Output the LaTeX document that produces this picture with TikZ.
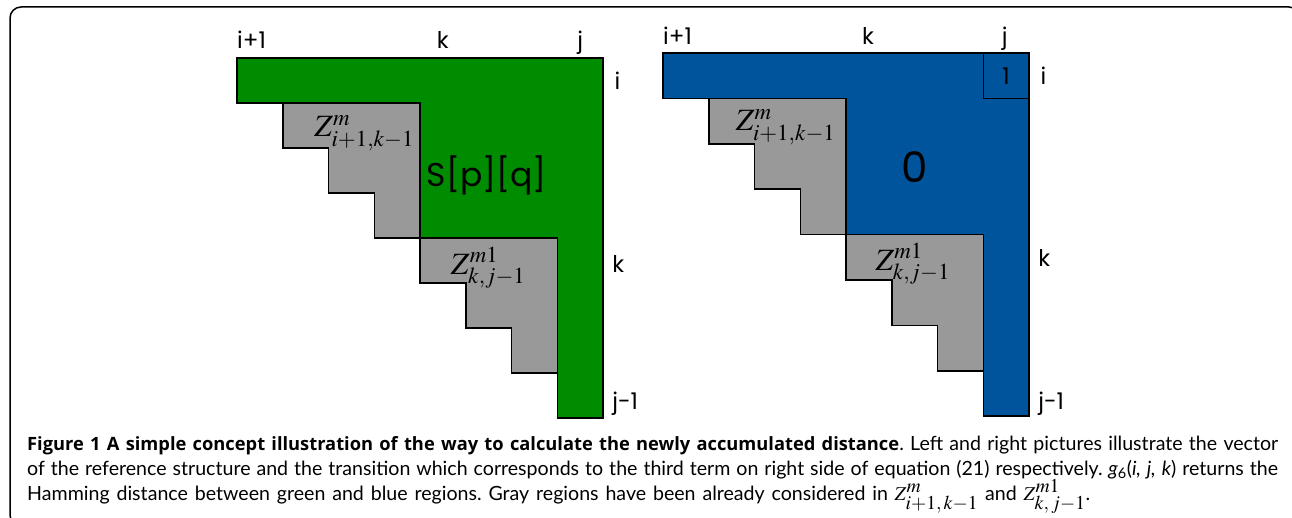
\documentclass[tikz,border=0pt]{standalone}
\usepackage{mathptmx}
\usepackage{fontspec}
\setmainfont{Lato}
\newfontfamily\labfont{Poppins}
\newfontfamily\capboldfont{Open Sans}
\definecolor{fgreen}{RGB}{0,140,0}
\definecolor{fblue}{RGB}{0,84,155}
\definecolor{fgray}{RGB}{153,153,153}
\tikzset{
  region/.style={draw=black, line width=1.5pt, line join=miter},
  lab/.style={font=\labfont\fontsize{23}{23}\selectfont, inner sep=0pt},
  biglab/.style={font=\labfont\fontsize{33}{33}\selectfont, inner sep=0pt},
  zlab/.style={font=\fontsize{31}{31}\selectfont, inner sep=0pt},
}
\newcommand{\capbold}[1]{{\capboldfont\bfseries\fontsize{18.3}{25}\selectfont #1}}
\begin{document}
\begin{tikzpicture}[x=1pt,y=-1pt]
\useasboundingbox (0,0) rectangle (1292,518);
\clip (0,0) rectangle (1292,518);
\draw[line width=1.5pt, rounded corners=11pt] (10,7) rectangle (1300,526);

% left figure
\begin{scope}[shift={(237,58)}, x=45.75pt, y=-45pt]
  \path[region, fill=fgreen] (0,0) -- (8,0) -- (8,8) -- (7,8) -- (7,4) -- (4,4) -- (4,1) -- (0,1) -- cycle;
  \path[region, fill=fgray] (1,1) -- (4,1) -- (4,4) -- (3,4) -- (3,3) -- (2,3) -- (2,2) -- (1,2) -- cycle;
  \path[region, fill=fgray] (4,4) -- (7,4) -- (7,7) -- (6,7) -- (6,6) -- (5,6) -- (5,5) -- (4,5) -- cycle;
  \node[lab, anchor=base west] (lip) at (0,-0.2) {i+1};
  \node[lab, anchor=base] (lk) at (4.5,-0.2) {k};
  \node[lab, anchor=base] (lj) at (7.5,-0.2) {j};
  \node[lab, anchor=base west] (li) at (8.25,0.71) {i};
  \node[lab, anchor=base west] (lk2) at (8.2,4.76) {k};
  \node[lab, anchor=base west] (ljm) at (8.2,7.82) {j-1};
  \node[biglab] (spq) at (5.46,2.6) {S[p][q]};
  \node[zlab] (lz1) at (2.78,1.67) {$Z^{m}_{i+1,k-1}$};
  \node[zlab] (lz2) at (5.49,4.67) {$Z^{m1}_{k,j-1}$};
\end{scope}

% right figure
\begin{scope}[shift={(663,53)}, x=45.75pt, y=-45.4pt]
  \path[region, fill=fblue] (0,0) -- (8,0) -- (8,8) -- (7,8) -- (7,4) -- (4,4) -- (4,1) -- (0,1) -- cycle;
  \path[region, fill=fgray] (1,1) -- (4,1) -- (4,4) -- (3,4) -- (3,3) -- (2,3) -- (2,2) -- (1,2) -- cycle;
  \path[region, fill=fgray] (4,4) -- (7,4) -- (7,7) -- (6,7) -- (6,6) -- (5,6) -- (5,5) -- (4,5) -- cycle;
  \path[region] (7,0) rectangle (8,1);
  \node[lab] (one) at (7.5,0.5) {1};
  \node[lab, anchor=base west] (rip) at (0,-0.19) {i+1};
  \node[lab, anchor=base] (rk) at (4.48,-0.19) {k};
  \node[lab, anchor=base] (rj) at (7.47,-0.19) {j};
  \node[lab, anchor=base west] (ri) at (8.25,0.70) {i};
  \node[lab, anchor=base west] (rk2) at (8.2,4.71) {k};
  \node[lab, anchor=base west] (rjm) at (8.2,7.86) {j-1};
  \node[font=\labfont\fontsize{42}{42}\selectfont, inner sep=0pt] (zero) at (5.5,2.51) {0};
  \node[zlab] (rz1) at (2.68,1.63) {$Z^{m}_{i+1,k-1}$};
  \node[zlab] (rz2) at (5.46,4.65) {$Z^{m1}_{k,j-1}$};
\end{scope}

% caption (one node, three fixed lines)
\node[anchor=base west, inner sep=0pt, text width=1251pt,
      font=\fontsize{19.6}{25}\selectfont] (cap) at (27,450)
{\baselineskip=25pt\lineskiplimit=-40pt\lineskip=0pt\frenchspacing
\spaceskip=0.24em plus 0.3em minus 0.1em
\hbox to\hsize{\capbold{Figure 1 A simple concept illustration of the way to calculate the newly accumulated distance}. Left and right pictures illustrate the vector}
\hbox to\hsize{of the reference structure and the transition which corresponds to the third term on right side of equation (21) respectively. {\itshape g}\textsubscript{6}(\textit{i, j, k}) returns the}
\hbox to 1063pt{Hamming distance between green and blue regions. Gray regions have been already considered in $Z^{\textstyle m}_{\textstyle i{+}1,k{-}1}$ and $Z^{\textstyle m1}_{\textstyle k,j{-}1}$.}};
\end{tikzpicture}
\end{document}
